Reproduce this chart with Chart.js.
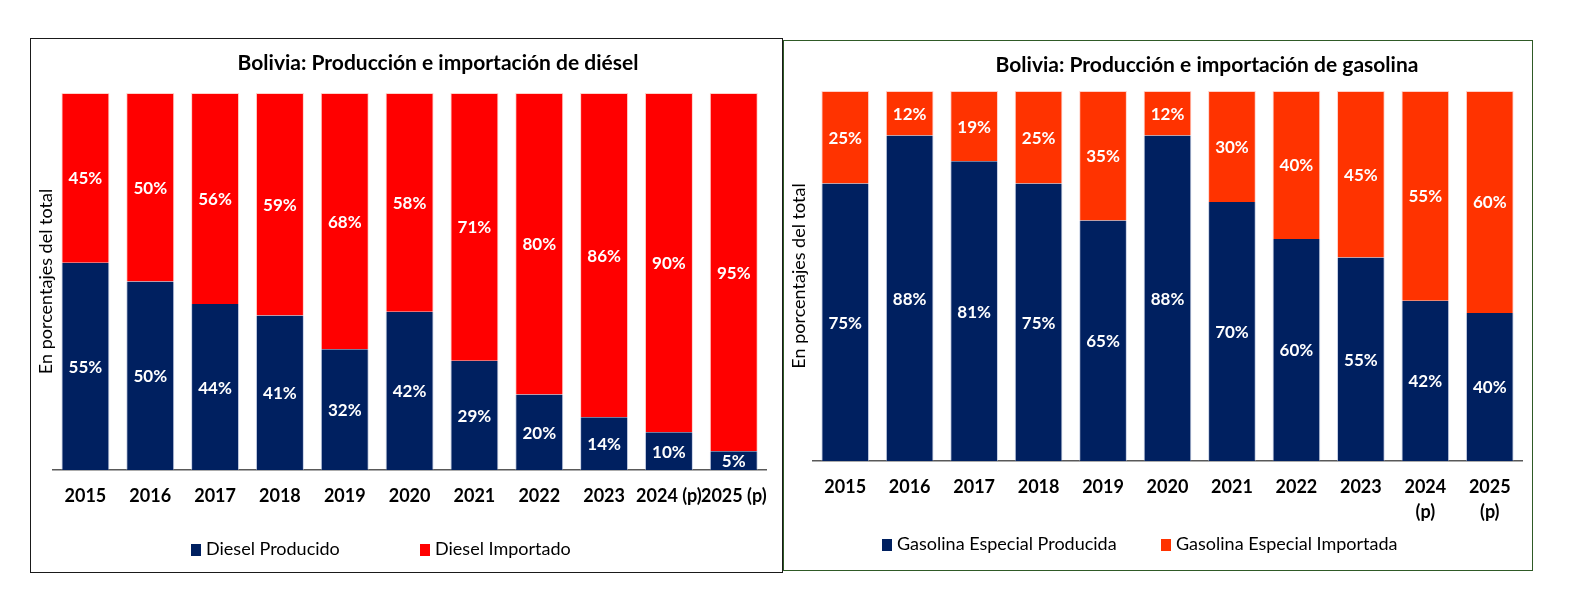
<!DOCTYPE html>
<html>
<head>
<meta charset="utf-8">
<script src="https://cdn.jsdelivr.net/npm/chart.js@4.4.1/dist/chart.umd.min.js"></script>
<style>
  html, body { margin:0; padding:0; background:#fff; }
  body { width:1570px; height:601px; position:relative; overflow:hidden; font-family: Lato, "Open Sans", sans-serif; }
  .box { position:absolute; box-sizing:border-box; background:#fff; }
  #boxL { left:30px; top:38px; width:753px; height:535px; border:1px solid #1a1a1a; }
  #boxR { left:783px; top:40px; width:750px; height:531px; border:1px solid #2f5a26; }
  canvas { position:absolute; left:0; top:0; }
  .title { position:absolute; font-weight:700; font-size:21px; color:#000; white-space:nowrap; line-height:26px; text-align:center; width:600px; }
  .legend { position:absolute; font-size:18px; color:#000; white-space:nowrap; line-height:20px; }
  .legend .item { position:absolute; top:0; }
  .legend .sw { display:inline-block; width:10px; height:12px; vertical-align:-1px; margin-right:5px; }
</style>
</head>
<body>
<div class="box" id="boxL">
  <canvas id="cL" width="751" height="533"></canvas>
  <div class="title" style="left:107px; top:10px;">Bolivia: Producción e importación de diésel</div>
  <div class="legend" style="left:0; top:499px; width:751px;">
    <span class="item" style="left:160px;"><span class="sw" style="background:#002060"></span>Diesel Producido</span>
    <span class="item" style="left:389px;"><span class="sw" style="background:#FF0000"></span>Diesel Importado</span>
  </div>
</div>
<div class="box" id="boxR">
  <canvas id="cR" width="748" height="529"></canvas>
  <div class="title" style="left:123px; top:10px;">Bolivia: Producción e importación de gasolina</div>
  <div class="legend" style="left:0; top:492px; width:748px;">
    <span class="item" style="left:98px;"><span class="sw" style="background:#002060"></span>Gasolina Especial Producida</span>
    <span class="item" style="left:377px;"><span class="sw" style="background:#FF3300"></span>Gasolina Especial Importada</span>
  </div>
</div>
<script>
// ---- Data ----
const dieselYears = ['2015','2016','2017','2018','2019','2020','2021','2022','2023','2024 (p)','2025 (p)'];
const dieselProducido = [55, 50, 44, 41, 32, 42, 29, 20, 14, 10, 5];
const dieselImportado = [45, 50, 56, 59, 68, 58, 71, 80, 86, 90, 95];

const gasolinaYears = ['2015','2016','2017','2018','2019','2020','2021','2022','2023',['2024','(p)'],['2025','(p)']];
const gasolinaProducida = [75, 88, 81, 75, 65, 88, 70, 60, 55, 42, 40];
const gasolinaImportada = [25, 12, 19, 25, 35, 12, 30, 40, 45, 55, 60];

const yAxisTitle = 'En porcentajes del total';

const NAVY = '#002060';
const RED = '#FF0000';
const ORANGE = '#FF3300';
const FONT = 'Lato, "Open Sans", sans-serif';

// 100% stacked shares (like Excel), labels show the raw values
function share(a, b) { return a.map((v, i) => v / (v + b[i]) * 100); }

const labelPlugin = {
  id: 'segLabels',
  afterDatasetsDraw(chart) {
    const ctx = chart.ctx;
    ctx.save();
    ctx.fillStyle = '#fff';
    ctx.font = 'bold 17px ' + FONT;
    ctx.textAlign = 'center';
    ctx.textBaseline = 'middle';
    chart.data.datasets.forEach((ds, di) => {
      const meta = chart.getDatasetMeta(di);
      meta.data.forEach((bar, i) => {
        const yc = (bar.y + bar.base) / 2;
        ctx.fillText(ds.rawValues[i] + '%', bar.x, yc + 1);
      });
    });
    ctx.restore();
  }
};

function makeChart(id, cats, prod, imp, impColor, cfg) {
  return new Chart(document.getElementById(id), {
    type: 'bar',
    data: {
      labels: cats,
      datasets: [
        { label: 'Producido', data: share(prod, imp), rawValues: prod, backgroundColor: NAVY,
          borderColor: 'rgba(160,175,210,0.6)', borderWidth: {left:1, right:1, top:0, bottom:0}, borderSkipped: false },
        { label: 'Importado', data: share(imp, prod), rawValues: imp, backgroundColor: impColor,
          borderColor: 'rgba(255,190,180,0.7)', borderWidth: {left:1, right:1, top:1, bottom:0}, borderSkipped: false }
      ]
    },
    options: {
      responsive: false,
      animation: false,
      devicePixelRatio: 1,
      layout: { padding: { top: cfg.top, right: cfg.right, left: 0, bottom: 0 } },
      plugins: { legend: { display: false }, title: { display: false }, tooltip: { enabled: false } },
      datasets: { bar: { categoryPercentage: 1.0, barPercentage: cfg.barPct } },
      scales: {
        x: {
          stacked: true,
          grid: { display: false, drawTicks: false },
          border: { display: true, color: '#595959', width: 1.5 },
          ticks: { color: '#000', font: { family: FONT, size: 18, weight: 'bold', lineHeight: cfg.tickLH },
                   padding: cfg.tickPad, maxRotation: 0, autoSkip: false },
          afterFit(scale) { scale.height = cfg.xH; }
        },
        y: {
          stacked: true,
          min: 0, max: 100,
          grid: { display: false, drawTicks: false },
          border: { display: false },
          ticks: { display: false },
          title: { display: true, text: yAxisTitle, color: '#000', font: { family: FONT, size: 18, lineHeight: 1.2 }, padding: { top: 4, bottom: 0 } },
          afterFit(scale) { scale.width = cfg.yW; }
        }
      }
    },
    plugins: [labelPlugin]
  });
}

makeChart('cL', dieselYears, dieselProducido, dieselImportado, RED,
  { top: 54, right: 9, xH: 102, yW: 22, tickPad: 15, tickLH: 1.2, barPct: 0.74 });
makeChart('cR', gasolinaYears, gasolinaProducida, gasolinaImportada, ORANGE,
  { top: 50, right: 10, xH: 109, yW: 29, tickPad: 14, tickLH: 1.39, barPct: 0.74 });
</script>
</body>
</html>
